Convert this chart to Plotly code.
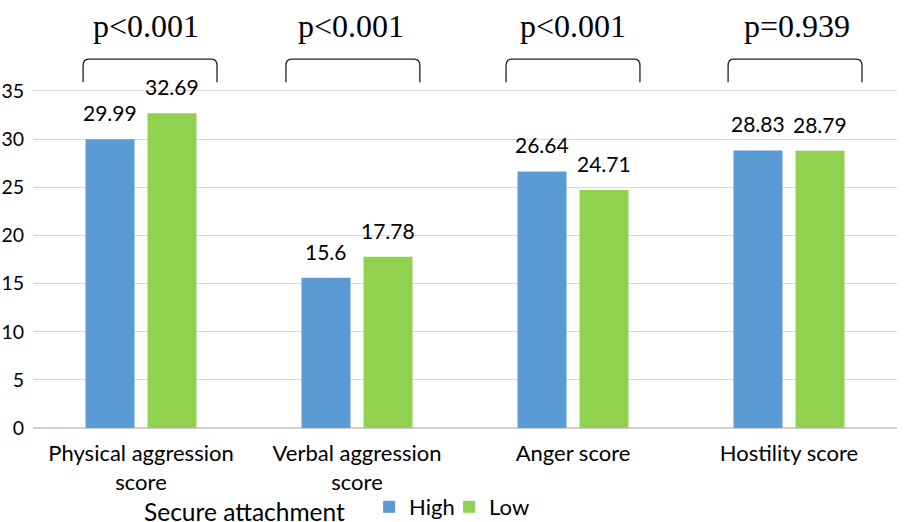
import plotly.graph_objects as go

categories = ["Physical aggression<br>score", "Verbal aggression<br>score", "Anger score", "Hostility score"]
high_values = [29.99, 15.6, 26.64, 28.83]
low_values = [32.69, 17.78, 24.71, 28.79]
high_labels = ["29.99", "15.6", "26.64", "28.83"]
low_labels = ["32.69", "17.78", "24.71", "28.79"]
p_values = ["p<0.001", "p<0.001", "p<0.001", "p=0.939"]
y_ticks = [0, 5, 10, 15, 20, 25, 30, 35]
legend_title = "Secure attachment"

# small horizontal nudges (category units) of the brackets / p-value texts
bracket_nudge = [0.042, -0.019, 0.0, 0.028]
ptext_nudge = [0.023, -0.03, 0.0, 0.037]

idx = list(range(len(categories)))
BLUE = "#5B9BD5"
GREEN = "#92D050"
FONT = "Lato, 'Open Sans', sans-serif"
BARGAP = 0.426
BARGROUPGAP = 0.21
slot = (1 - BARGAP) / 2  # width of each bar slot within a group (category units)

fig = go.Figure()
fig.add_trace(go.Bar(x=idx, y=high_values, name="High", marker=dict(color=BLUE, line=dict(width=0))))
fig.add_trace(go.Bar(x=idx, y=low_values, name="Low", marker=dict(color=GREEN, line=dict(width=0))))

# value labels above bars
for series, labels, sign in ((high_values, high_labels, -1), (low_values, low_labels, 1)):
    for i, v, lab in zip(idx, series, labels):
        fig.add_annotation(x=i + sign * slot / 2, y=v, xref="x", yref="y", text=lab,
                           showarrow=False, yanchor="bottom", yshift=12,
                           font=dict(size=21, color="#000000", family=FONT))

# brackets and p-value annotations
half_w = 0.31
yb, yt = 35.9, 38.3
cx, cy = 0.025, 0.7
for i, p, bn, tn in zip(idx, p_values, bracket_nudge, ptext_nudge):
    x0, x1 = i + bn - half_w, i + bn + half_w
    path = (f"M {x0},{yb} L {x0},{yt - cy} Q {x0},{yt} {x0 + cx},{yt} "
            f"L {x1 - cx},{yt} Q {x1},{yt} {x1},{yt - cy} L {x1},{yb}")
    fig.add_shape(type="path", path=path, xref="x", yref="y",
                  line=dict(color="#222222", width=1.3))
    fig.add_annotation(x=i + tn, y=41.7, xref="x", yref="y", text=p, showarrow=False,
                       font=dict(family="'Liberation Serif', 'Times New Roman', serif", size=32, color="#000000"))

# legend title (drawn as text beside the legend)
fig.add_annotation(x=0.126, y=-0.1945, xref="paper", yref="paper", xanchor="left", yanchor="middle",
                   text=legend_title, showarrow=False, font=dict(size=24.5, family=FONT, color="#000000"))

fig.update_layout(
    width=904, height=522,
    margin=dict(l=33, r=7, t=0, b=94, autoexpand=False),
    paper_bgcolor="white", plot_bgcolor="white",
    barmode="group", bargap=BARGAP, bargroupgap=BARGROUPGAP,
    font=dict(family=FONT, color="#000000"),
    xaxis=dict(tickmode="array", tickvals=idx, ticktext=categories, range=[-0.5, 3.5],
               showgrid=False, zeroline=False, showline=False, ticks="", automargin=False,
               ticklabelstandoff=10,
               tickfont=dict(size=22, family=FONT, color="#000000")),
    yaxis=dict(range=[0, 44.45], tickvals=y_ticks, showgrid=True, gridcolor="#D9D9D9", gridwidth=1,
               zeroline=True, zerolinecolor="#D0D0D0", zerolinewidth=1.5, showline=False, ticks="",
               automargin=False, ticklabelstandoff=8,
               tickfont=dict(size=19.5, family=FONT, color="#000000")),
    legend=dict(orientation="h", x=0.389, xanchor="left", y=-0.1355, yanchor="top",
                bgcolor="rgba(0,0,0,0)",
                font=dict(size=22, family=FONT, color="#000000"),
                itemwidth=30, entrywidth=35, traceorder="normal", tracegroupgap=0),
)

fig.write_html("out.html", config={"displayModeBar": False},
               post_script="document.body.style.margin='0';")
